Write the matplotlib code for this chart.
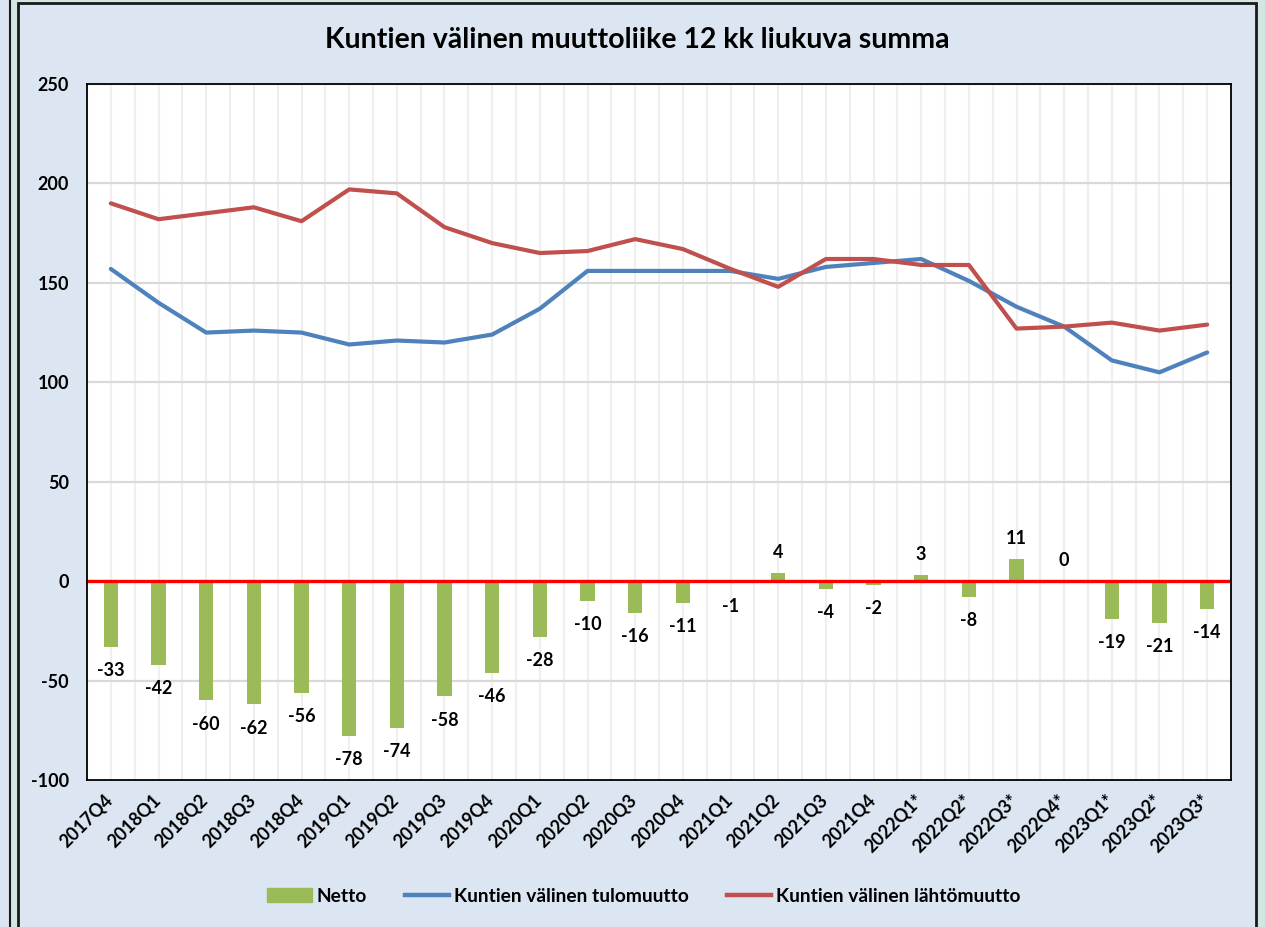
import numpy as np
import matplotlib
matplotlib.use("Agg")
import matplotlib.pyplot as plt
import matplotlib.patches as mpatches
import matplotlib.transforms as mtransforms
from matplotlib.lines import Line2D

plt.rcParams['font.family'] = ['Lato', 'DejaVu Sans']
plt.rcParams['font.weight'] = 'bold'
plt.rcParams['axes.unicode_minus'] = False

quarters = ['2017Q4', '2018Q1', '2018Q2', '2018Q3', '2018Q4', '2019Q1', '2019Q2',
            '2019Q3', '2019Q4', '2020Q1', '2020Q2', '2020Q3', '2020Q4', '2021Q1',
            '2021Q2', '2021Q3', '2021Q4', '2022Q1*', '2022Q2*', '2022Q3*', '2022Q4*',
            '2023Q1*', '2023Q2*', '2023Q3*']

tulo = [157, 140, 125, 126, 125, 119, 121, 120, 124, 137, 156, 156, 156, 156,
        152, 158, 160, 162, 151, 138, 128, 111, 105, 115]
lahto = [190, 182, 185, 188, 181, 197, 195, 178, 170, 165, 166, 172, 167, 157,
         148, 162, 162, 159, 159, 127, 128, 130, 126, 129]
netto = [-33, -42, -60, -62, -56, -78, -74, -58, -46, -28, -10, -16, -11, -1,
         4, -4, -2, 3, -8, 11, 0, -19, -21, -14]

GREEN = '#9BBB59'
BLUE = '#4F81BD'
RED = '#C0504D'
BG = '#DCE6F2'

W, H = 1265, 927
fig = plt.figure(figsize=(W / 100, H / 100), dpi=100)
fig.patch.set_facecolor('#D3E6E2')

# chart frames (behind the axes)
def px_rect(x0, y0, x1, y1, **kw):
    r = mpatches.Rectangle((x0 / W, 1 - y1 / H), (x1 - x0) / W, (y1 - y0) / H,
                           transform=fig.transFigure, zorder=-5, **kw)
    fig.patches.append(r)

px_rect(-5, -5, 10, 940, facecolor=BG, edgecolor='#1a1a1a', linewidth=1.5)
px_rect(18, 3, 1256, 940, facecolor=BG, edgecolor='#1a1a1a', linewidth=2)

n = len(quarters)
x = np.arange(n)

ax = fig.add_axes([87 / W, 1 - 780 / H, (1231 - 87) / W, (780 - 84) / H])
ax.set_facecolor('white')
ax.set_xlim(-0.5, n - 0.5)
ax.set_ylim(-100, 250)
ax.set_yticks(np.arange(-100, 251, 50))

for gx in np.arange(-0.5, n, 0.5):
    ax.axvline(gx, color='#EFEFEF', linewidth=1.6, zorder=0)
for gy in np.arange(-50, 251, 50):
    ax.axhline(gy, color='#D9D9D9', linewidth=1.6, zorder=0)

ax.bar(x, netto, width=0.3, color=GREEN, zorder=2)
ax.axhline(0, color='#FF0000', linewidth=2.4, zorder=3)
ax.plot(x, tulo, color=BLUE, linewidth=3.0, zorder=4, solid_capstyle='round')
ax.plot(x, lahto, color=RED, linewidth=3.0, zorder=5, solid_capstyle='round')

for xi, v in zip(x, netto):
    off = -17 if v < 0 else 15
    ax.annotate(str(v), (xi, v), xytext=(0, off), textcoords='offset points',
                ha='center', va='center', fontsize=13, fontweight='bold')

for s in ax.spines.values():
    s.set_color('black')
    s.set_linewidth(1.3)
    s.set_zorder(6)

ax.tick_params(axis='both', length=0)
ax.tick_params(axis='y', pad=13, labelsize=13)
ax.set_xticks(x)
ax.set_xticklabels(quarters, rotation=45, ha='right', va='top',
                   rotation_mode='anchor', fontsize=13)
shift = mtransforms.ScaledTranslation(-7 / 100, -6 / 100, fig.dpi_scale_trans)
for lab in ax.get_xticklabels():
    lab.set_transform(lab.get_transform() + shift)

fig.text(637 / W, 1 - 40 / H, 'Kuntien välinen muuttoliike 12 kk liukuva summa',
         ha='center', va='center', fontsize=20.5, fontweight='bold')

handles = [mpatches.Patch(color=GREEN, label='Netto'),
           Line2D([], [], color=BLUE, linewidth=3.2, label='Kuntien välinen tulomuutto'),
           Line2D([], [], color=RED, linewidth=3.2, label='Kuntien välinen lähtömuutto')]
fig.legend(handles=handles, loc='center', bbox_to_anchor=(644 / W, 1 - 896 / H),
           ncol=3, frameon=False, fontsize=13.8, handlelength=2.3,
           handletextpad=0.25, columnspacing=2.0, handleheight=0.75)

fig.savefig('out.png', dpi=100, facecolor=fig.get_facecolor())
